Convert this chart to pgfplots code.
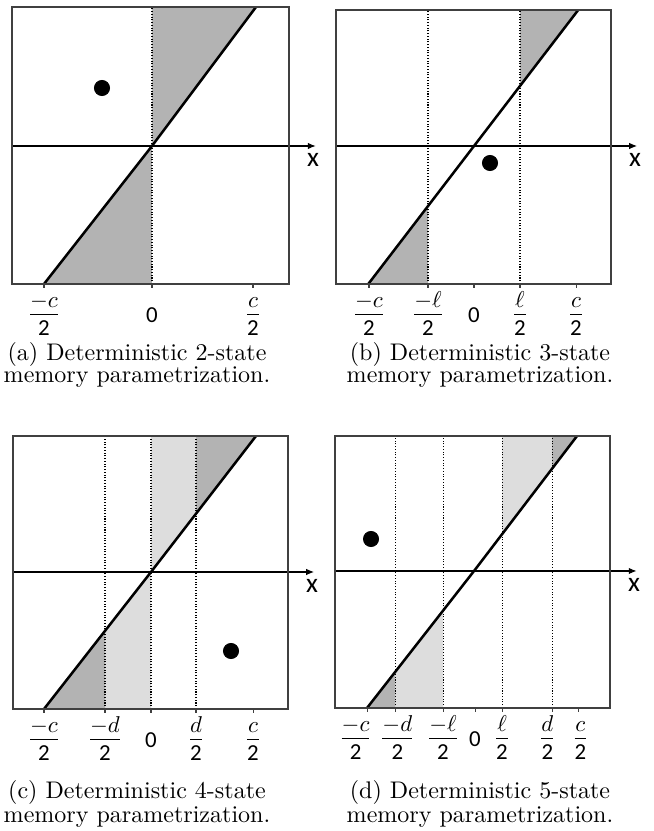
\documentclass[border=0pt]{standalone}
\usepackage{pgfplots}
\pgfplotsset{compat=1.18}
\usetikzlibrary{arrows.meta}
\usepackage{fontspec}
\newfontfamily\carlito{Carlito}

\definecolor{darkshade}{HTML}{B3B3B3}
\definecolor{lightshade}{HTML}{DDDDDD}

% tick label as a compact displayed fraction with a sans denominator
\newcommand{\fr}[2]{$\displaystyle\frac{\raisebox{-1.3pt}{$#1$}}{\mbox{\carlito #2}}$}
\newcommand{\zero}{\raisebox{-1.4pt}{\carlito 0}}
% move a crowded tick label sideways by half of #1
\newcommand{\nudge}[2]{\hspace*{#1}#2}

\pgfplotsset{
  panel/.style={
    scale only axis, clip=false, axis on top,
    axis line style={line width=0.6pt, black!75},
    ytick=\empty, xtick pos=bottom, tick align=outside,
    major tick length=1.6pt,
    tick style={line width=0.45pt, black!75},
    xticklabel style={font=\fontsize{10}{12}\selectfont, anchor=base, yshift=-14pt, inner sep=0pt},
  },
  cut/.style={draw=black, line width=0.45pt, dash pattern=on 0.45pt off 0.75pt},
  diag/.style={black, line width=1.1pt},
  dot/.style={only marks, mark=*, mark size=3.3pt, black},
  xarrow/.style={black, line width=0.45pt, -{Latex[length=3.4pt,width=2.8pt]}},
}
\tikzset{xname/.style={font=\carlito\fontsize{12}{14}\selectfont, anchor=north, inner sep=0pt}}

\begin{document}
\begin{tikzpicture}
\useasboundingbox (0,0) rectangle (285.80pt,-363.15pt);

% (a) two states
\begin{axis}[panel, at={(5.24pt,-3.06pt)}, anchor=north west,
  width=121.05pt, height=121.05pt,
  xmin=-1.40, xmax=1.37, ymin=-1.38, ymax=1.39,
  xtick={-1.08,0,1.01},
  xticklabels={\fr{-c}{2}, \zero, \fr{c}{2}}]
  \addplot[fill=darkshade, draw=none] coordinates {(0,0) (1.04,1.39) (0,1.39)} -- cycle;
  \addplot[fill=darkshade, draw=none] coordinates {(-1.08,-1.38) (0,-1.38) (0,0)} -- cycle;
  \addplot[cut] coordinates {(0,-1.38) (0,1.39)};
  \addplot[xarrow] coordinates {(-1.40,0) (1.637,0)};
  \addplot[diag] coordinates {(-1.08,-1.38) (0,0) (1.04,1.39)};
  \addplot[dot] coordinates {(-0.50,0.58)};
  \node[xname] at (axis cs:1.61,-0.07) {x};
\end{axis}

% (b) three states
\begin{axis}[panel, at={(146.83pt,-4.37pt)}, anchor=north west,
  width=120.18pt, height=119.74pt,
  xmin=-1.38, xmax=1.37, ymin=-1.38, ymax=1.36,
  xtick={-1.05,-0.46,0,0.46,1.02},
  xticklabels={\fr{-c}{2}, \fr{-\ell}{2}, \zero, \fr{\ell}{2}, \fr{c}{2}}]
  \addplot[fill=darkshade, draw=none] coordinates {(0.46,0.600) (1.042,1.36) (0.46,1.36)} -- cycle;
  \addplot[fill=darkshade, draw=none] coordinates {(-1.057,-1.38) (-0.46,-1.38) (-0.46,-0.600)} -- cycle;
  \addplot[cut] coordinates {(-0.46,-1.38) (-0.46,1.36)};
  \addplot[cut] coordinates {(0.46,-1.38) (0.46,1.36)};
  \addplot[xarrow] coordinates {(-1.38,0) (1.63,0)};
  \addplot[diag] coordinates {(-1.057,-1.38) (1.042,1.36)};
  \addplot[dot] coordinates {(0.16,-0.17)};
  \node[xname] at (axis cs:1.61,-0.07) {x};
\end{axis}

% (c) four states
\begin{axis}[panel, at={(5.68pt,-190.53pt)}, anchor=north west,
  width=120.18pt, height=119.30pt,
  xmin=-1.38, xmax=1.37, ymin=-1.37, ymax=1.36,
  xtick={-1.07,-0.46,0,0.45,1.02},
  xticklabels={\fr{-c}{2}, \fr{-d}{2}, \zero, \fr{d}{2}, \fr{c}{2}}]
  \addplot[fill=lightshade, draw=none] coordinates {(0,0) (0.45,0.583) (0.45,1.36) (0,1.36)} -- cycle;
  \addplot[fill=darkshade, draw=none] coordinates {(0.45,0.583) (1.05,1.36) (0.45,1.36)} -- cycle;
  \addplot[fill=lightshade, draw=none] coordinates {(-0.46,-0.589) (0,0) (0,-1.37) (-0.46,-1.37)} -- cycle;
  \addplot[fill=darkshade, draw=none] coordinates {(-1.07,-1.37) (-0.46,-0.589) (-0.46,-1.37)} -- cycle;
  \addplot[cut] coordinates {(-0.46,-1.37) (-0.46,1.36)};
  \addplot[cut] coordinates {(0,-1.37) (0,1.36)};
  \addplot[cut] coordinates {(0.45,-1.37) (0.45,1.36)};
  \addplot[xarrow] coordinates {(-1.38,0) (1.63,0)};
  \addplot[diag] coordinates {(-1.07,-1.37) (0,0) (1.05,1.36)};
  \addplot[dot] coordinates {(0.80,-0.79)};
  \node[xname] at (axis cs:1.61,-0.07) {x};
\end{axis}

% (d) five states
\begin{axis}[panel, at={(146.40pt,-190.53pt)}, anchor=north west,
  width=120.18pt, height=118.86pt,
  xmin=-1.39, xmax=1.36, ymin=-1.37, ymax=1.35,
  xtick={-1.07,-0.79,-0.31,0.01,0.28,0.78,1.04},
  xticklabels={\nudge{-10pt}{\fr{-c}{2}}, \nudge{2pt}{\fr{-d}{2}}, \fr{-\ell}{2}, \zero, \fr{\ell}{2}, \nudge{-4pt}{\fr{d}{2}}, \nudge{2pt}{\fr{c}{2}}}]
  \addplot[fill=lightshade, draw=none] coordinates {(0.28,0.367) (0.78,1.022) (0.78,1.35) (0.28,1.35)} -- cycle;
  \addplot[fill=darkshade, draw=none] coordinates {(0.78,1.022) (1.03,1.35) (0.78,1.35)} -- cycle;
  \addplot[fill=lightshade, draw=none] coordinates {(-0.79,-1.012) (-0.31,-0.397) (-0.31,-1.37) (-0.79,-1.37)} -- cycle;
  \addplot[fill=darkshade, draw=none] coordinates {(-1.07,-1.37) (-0.79,-1.012) (-0.79,-1.37)} -- cycle;
  \addplot[cut] coordinates {(-0.79,-1.37) (-0.79,1.35)};
  \addplot[cut] coordinates {(-0.31,-1.37) (-0.31,1.35)};
  \addplot[cut] coordinates {(0.28,-1.37) (0.28,1.35)};
  \addplot[cut] coordinates {(0.78,-1.37) (0.78,1.35)};
  \addplot[xarrow] coordinates {(-1.39,0) (1.625,0)};
  \addplot[diag] coordinates {(-1.07,-1.37) (0,0) (1.03,1.35)};
  \addplot[dot] coordinates {(-1.03,0.32)};
  \node[xname] at (axis cs:1.60,-0.07) {x};
\end{axis}

% captions
\begin{scope}[every node/.style={font=\fontsize{10.5}{12}\selectfont, anchor=base, inner sep=0pt}]
  \node at (59.87pt,-157.6pt) {(a) Deterministic 2-state};
  \node at (59.87pt,-167.2pt) {memory parametrization.};
  \node at (209.76pt,-157.6pt) {(b) Deterministic 3-state};
  \node at (209.76pt,-167.2pt) {memory parametrization.};
  \node at (59.87pt,-348.73pt) {(c) Deterministic 4-state};
  \node at (59.87pt,-359.6pt) {memory parametrization.};
  \node at (209.76pt,-348.73pt) {(d) Deterministic 5-state};
  \node at (209.76pt,-359.6pt) {memory parametrization.};
\end{scope}
\end{tikzpicture}
\end{document}
